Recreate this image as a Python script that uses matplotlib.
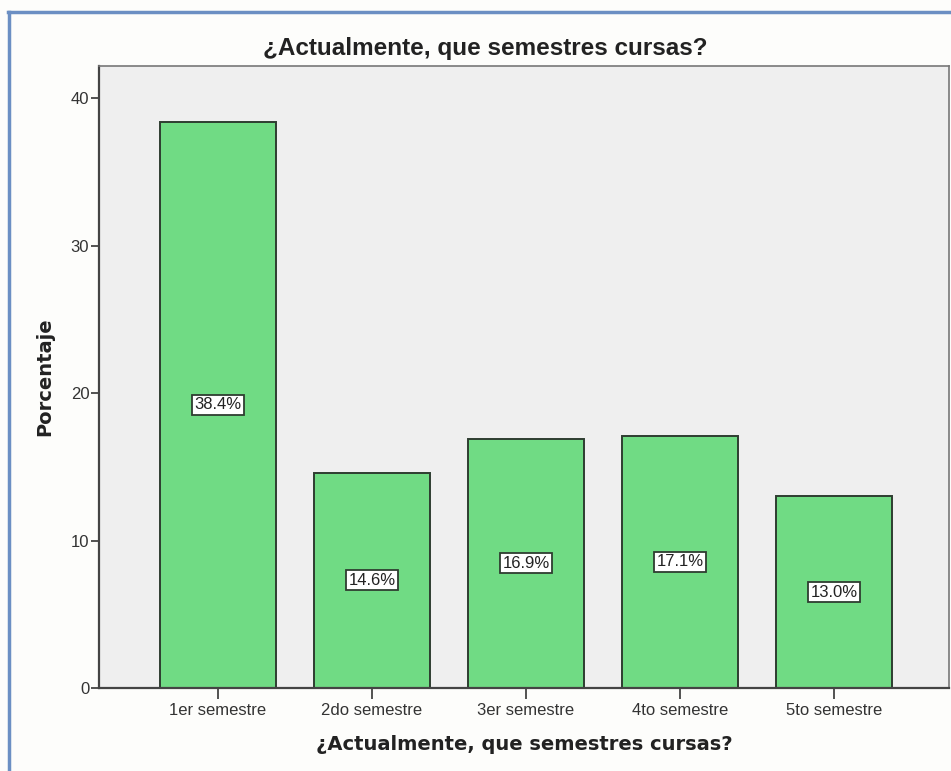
import matplotlib
matplotlib.use("Agg")
import matplotlib.pyplot as plt
from matplotlib.lines import Line2D

categories = ["1er semestre", "2do semestre", "3er semestre", "4to semestre", "5to semestre"]
values = [38.4, 14.6, 16.9, 17.1, 13.0]
labels = ["38.4%", "14.6%", "16.9%", "17.1%", "13.0%"]
yticks = [0, 10, 20, 30, 40]
title = "¿Actualmente, que semestres cursas?"

plt.rcParams['font.family'] = ['Liberation Sans', 'DejaVu Sans']

fig = plt.figure(figsize=(9.51, 7.71), dpi=100, facecolor='#FDFDFB')
ax = fig.add_axes([99/951, (771-688)/771, (949-99)/951, (688-66)/771])
ax.set_facecolor('#EFEFEF')

x = list(range(len(categories)))
ax.bar(x, values, width=0.753, color='#70DB84', edgecolor='#2E3D30', linewidth=1.4, zorder=2)
for xi, v, lab in zip(x, values, labels):
    ax.text(xi, v / 2, lab, ha='center', va='center', fontsize=12, color='#222222', zorder=3,
            bbox=dict(boxstyle='square,pad=0.15', facecolor='white', edgecolor='#2E3D30', linewidth=1.3))

ax.set_xlim(-0.773, 4.747)
ax.set_ylim(0, 42.17)
ax.set_xticks(x)
ax.set_xticklabels(categories, fontsize=12, color='#333333')
ax.set_yticks(yticks)
ax.set_yticklabels([str(t) for t in yticks], fontsize=12, color='#333333')
ax.tick_params(axis='x', length=8, width=1.3, color='#444444', pad=3)
ax.tick_params(axis='y', length=6, width=1.3, color='#444444', pad=1)
for side in ['left', 'bottom']:
    ax.spines[side].set_color('#444444')
    ax.spines[side].set_linewidth(1.6)
for side in ['top', 'right']:
    ax.spines[side].set_color('#777777')
    ax.spines[side].set_linewidth(1.2)

fig.text(485/951, 1 - 48/771, title, ha='center', va='center', fontsize=17.5,
         fontweight='bold', color='#222222')
ax.set_xlabel(title, fontsize=14, fontweight='bold', color='#222222', labelpad=12,
              family=['DejaVu Sans'])
ax.set_ylabel("Porcentaje", fontsize=14, fontweight='bold', color='#222222', labelpad=12,
              family=['DejaVu Sans'])

# blue frame around the figure
fig.add_artist(Line2D([8/951, 1.0], [1 - 12/771, 1 - 12/771], transform=fig.transFigure,
                      color='#6B8FC3', linewidth=2.5))
fig.add_artist(Line2D([9/951, 9/951], [0, 1 - 12/771], transform=fig.transFigure,
                      color='#6B8FC3', linewidth=2.5))

fig.savefig("out.png", dpi=100, facecolor=fig.get_facecolor())
